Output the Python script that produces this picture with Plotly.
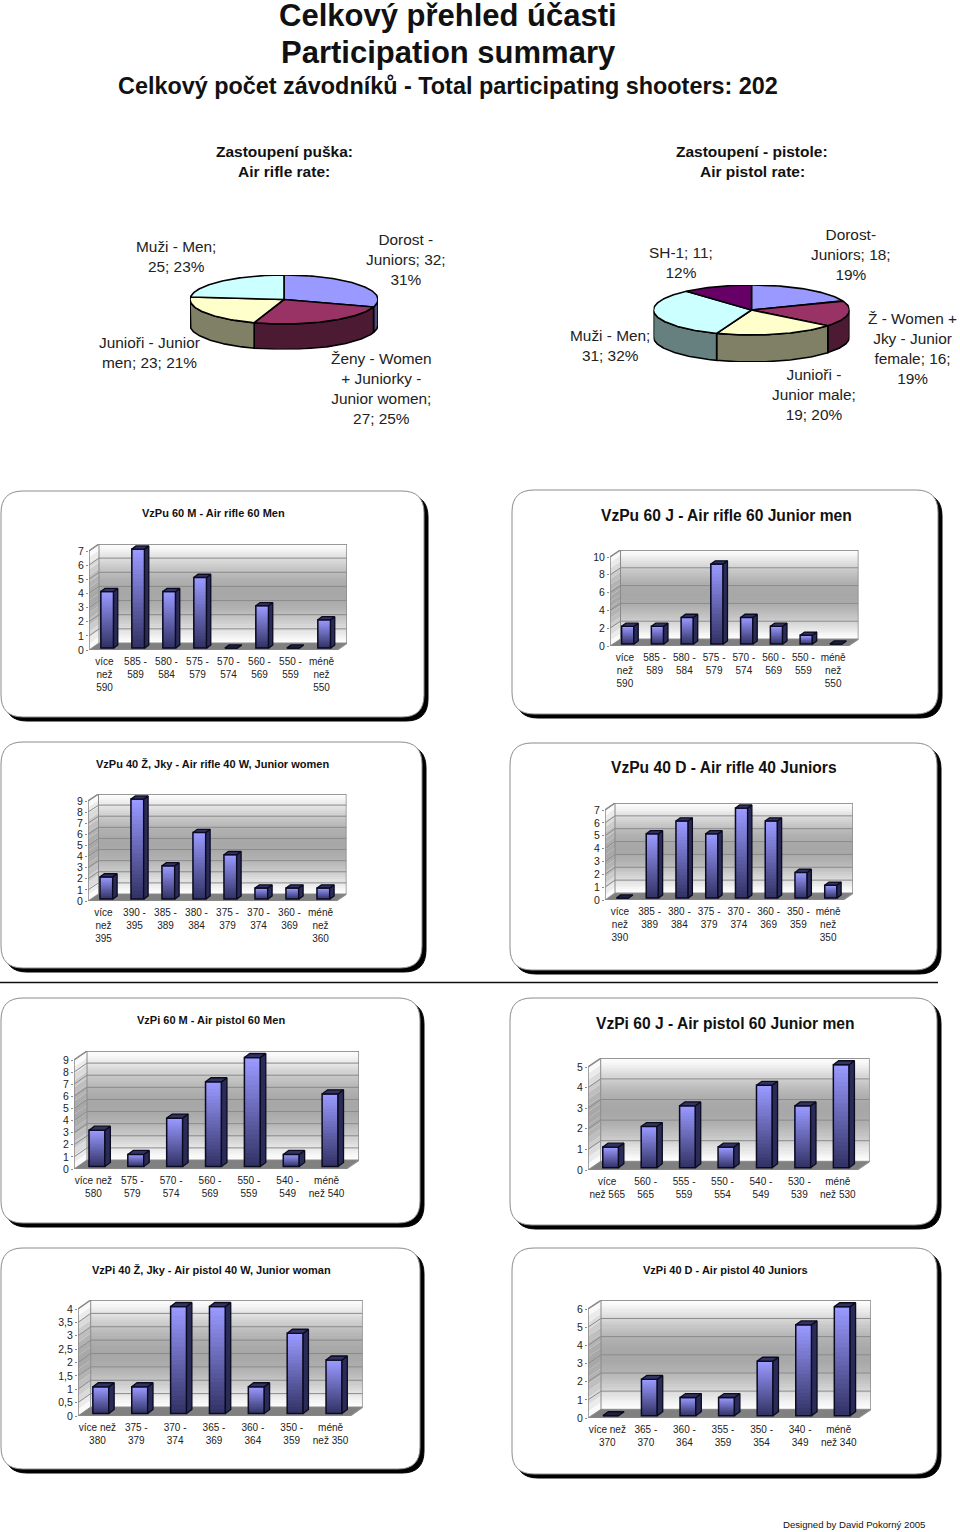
import math
import plotly.graph_objects as go

W, H = 960, 1532
FONT = "Liberation Sans, Arial, sans-serif"

# ---------- data ----------
rifle_pie_labels = ["Dorost -<br>Juniors; 32;<br>31%", "Ženy - Women<br>+ Juniorky -<br>Junior women;<br>27; 25%",
                    "Junioři - Junior<br>men; 23; 21%", "Muži - Men;<br>25; 23%"]
rifle_pie_values = [32, 27, 23, 25]
pistol_pie_labels = ["Dorost-<br>Juniors; 18;<br>19%", "Ž - Women +<br>Jky - Junior<br>female; 16;<br>19%",
                     "Junioři -<br>Junior male;<br>19; 20%", "Muži - Men;<br>31; 32%", "SH-1; 11;<br>12%"]
pistol_pie_values = [18, 16, 19, 31, 11]

cats_c1 = ["více<br>než<br>590", "585 -<br>589", "580 -<br>584", "575 -<br>579", "570 -<br>574", "560 -<br>569", "550 -<br>559", "méně<br>než<br>550"]
vals_c1 = [4, 7, 4, 5, 0, 3, 0, 2]
cats_c2 = cats_c1
vals_c2 = [2, 2, 3, 9, 3, 2, 1, 0]
cats_c3 = ["více<br>než<br>395", "390 -<br>395", "385 -<br>389", "380 -<br>384", "375 -<br>379", "370 -<br>374", "360 -<br>369", "méně<br>než<br>360"]
vals_c3 = [2, 9, 3, 6, 4, 1, 1, 1]
cats_c4 = ["více<br>než<br>390", "385 -<br>389", "380 -<br>384", "375 -<br>379", "370 -<br>374", "360 -<br>369", "350 -<br>359", "méně<br>než<br>350"]
vals_c4 = [0, 5, 6, 5, 7, 6, 2, 1]
cats_c5 = ["více než<br>580", "575 -<br>579", "570 -<br>574", "560 -<br>569", "550 -<br>559", "540 -<br>549", "méně<br>než 540"]
vals_c5 = [3, 1, 4, 7, 9, 1, 6]
cats_c6 = ["více<br>než 565", "560 -<br>565", "555 -<br>559", "550 -<br>554", "540 -<br>549", "530 -<br>539", "méně<br>než 530"]
vals_c6 = [1, 2, 3, 1, 4, 3, 5]
cats_c7 = ["více než<br>380", "375 -<br>379", "370 -<br>374", "365 -<br>369", "360 -<br>364", "350 -<br>359", "méně<br>než 350"]
vals_c7 = [1, 1, 4, 4, 1, 3, 2]
cats_c8 = ["více než<br>370", "365 -<br>370", "360 -<br>364", "355 -<br>359", "350 -<br>354", "340 -<br>349", "méně<br>než 340"]
vals_c8 = [0, 2, 1, 1, 3, 5, 6]

ticks_int_7 = [0, 1, 2, 3, 4, 5, 6, 7]
ticks_int_9 = [0, 1, 2, 3, 4, 5, 6, 7, 8, 9]
ticks_even_10 = [0, 2, 4, 6, 8, 10]
ticks_int_5 = [0, 1, 2, 3, 4, 5]
ticks_half_4 = [0, 0.5, 1, 1.5, 2, 2.5, 3, 3.5, 4]
ticks_int_6 = [0, 1, 2, 3, 4, 5, 6]

# ---------- layout of the charts (pixels on the page) ----------
charts = [
    dict(title="VzPu 60 M - Air rifle 60 Men", ts=11, tc=(213, 513), frame=(1, 491, 424, 717), cats=cats_c1, vals=vals_c1, ticks=ticks_int_7, box=(89, 337, 650, 551), d=(10, 7)),
    dict(title="VzPu 60 J - Air rifle 60 Junior men", ts=15.6, tc=(726, 515), frame=(512, 490, 938, 714), cats=cats_c2, vals=vals_c2, ticks=ticks_even_10, box=(610, 848, 646, 557), d=(10.5, 7)),
    dict(title="VzPu 40 Ž, Jky - Air rifle 40 W, Junior women", ts=11, tc=(212, 764), frame=(1, 742, 422, 968), cats=cats_c3, vals=vals_c3, ticks=ticks_int_9, box=(88, 336, 901, 801), d=(10.5, 7)),
    dict(title="VzPu 40 D - Air rifle 40 Juniors", ts=15.6, tc=(724, 768), frame=(510, 743, 937, 970), cats=cats_c4, vals=vals_c4, ticks=ticks_int_7, box=(605, 843, 900, 810), d=(10, 7)),
    dict(title="VzPi 60 M - Air pistol 60 Men", ts=11, tc=(211, 1020), frame=(1, 998, 420, 1223), cats=cats_c5, vals=vals_c5, ticks=ticks_int_9, box=(74, 346, 1169, 1060), d=(13, 9)),
    dict(title="VzPi 60 J - Air pistol 60 Junior men", ts=15.6, tc=(725, 1023), frame=(510, 998, 937, 1225), cats=cats_c6, vals=vals_c6, ticks=ticks_int_5, box=(588, 857, 1170, 1067), d=(12.7, 8.7)),
    dict(title="VzPi 40 Ž, Jky - Air pistol 40 W, Junior woman", ts=11, tc=(211, 1270), frame=(1, 1248, 420, 1469), cats=cats_c7, vals=vals_c7, ticks=ticks_half_4, box=(78, 350, 1416, 1309), d=(12.7, 9)),
    dict(title="VzPi 40 D - Air pistol 40 Juniors", ts=11, tc=(725, 1270), frame=(512, 1248, 937, 1474), cats=cats_c8, vals=vals_c8, ticks=ticks_int_6, box=(588, 858, 1418, 1309), d=(13, 8.7)),
]

fig = go.Figure()
layout = {}
annots = []
shapes = []


def px(x):
    return x / W


def py(y):
    return 1 - y / H


def note(text, x, y, size, bold=False, color="#111111"):
    annots.append(dict(text=f"<b>{text}</b>" if bold else text, x=px(x), y=py(y), xref="paper", yref="paper",
                       showarrow=False, xanchor="center", yanchor="middle", align="center",
                       font=dict(family=FONT, size=size, color=color)))


def rounded(x0, y0, x1, y1, r):
    X, Y = px, py
    return (f"M{X(x0+r)},{Y(y0)} L{X(x1-r)},{Y(y0)} Q{X(x1)},{Y(y0)} {X(x1)},{Y(y0+r)} "
            f"L{X(x1)},{Y(y1-r)} Q{X(x1)},{Y(y1)} {X(x1-r)},{Y(y1)} L{X(x0+r)},{Y(y1)} "
            f"Q{X(x0)},{Y(y1)} {X(x0)},{Y(y1-r)} L{X(x0)},{Y(y0+r)} Q{X(x0)},{Y(y0)} {X(x0+r)},{Y(y0)} Z")


def shade(t):
    level = 255 - 88 * math.sin(math.pi * max(0, min(1, t))) ** 1.2
    v = int(round(level))
    return f"rgb({v},{v},{v})"


def mix(a, b, t):
    return "rgb(%d,%d,%d)" % tuple(round(a[i] + (b[i] - a[i]) * t) for i in range(3))


def poly(xs, ys, fill, line=None, lw=1.0, xa="x", ya="y"):
    fig.add_trace(go.Scatter(
        x=list(xs) + [xs[0]], y=list(ys) + [ys[0]], mode="lines" if line else "none", fill="toself", fillcolor=fill,
        line=dict(color=line or "rgba(0,0,0,0)", width=lw), xaxis=xa, yaxis=ya, hoverinfo="skip",
        showlegend=False, cliponaxis=False))


def seg(xs, ys, color, lw, xa, ya):
    fig.add_trace(go.Scatter(x=xs, y=ys, mode="lines", line=dict(color=color, width=lw), xaxis=xa, yaxis=ya,
                             hoverinfo="skip", showlegend=False, cliponaxis=False, connectgaps=False))


GRID = "#8a8a8a"
BAR_TOP, BAR_BOTTOM = (153, 153, 255), (51, 51, 102)
N_SEG = 24

for i, c in enumerate(charts):
    x0, x1, y0, ytop = c["box"]
    ddx, ddy = c["d"]
    vals, cats, ticks = c["vals"], c["cats"], c["ticks"]
    n = len(vals)
    ymax = ticks[-1]
    catw = (x1 - x0) / n
    ppu = (y0 - ytop) / ymax
    dxc, dyv = ddx / catw, ddy / ppu
    xr = [-0.5, n - 0.5 + dxc]
    yr = [0, ymax + dyv]
    dom_x = [px(x0), px(x1 + ddx)]
    dom_y = [py(y0), py(ytop - ddy)]
    bg, fg = 2 * i + 1, 2 * i + 2
    bx, by = f"x{bg}", f"y{bg}"
    fx, fy = f"x{fg}", f"y{fg}"
    layout[f"xaxis{bg}"] = dict(domain=dom_x, range=xr, visible=False, anchor=by, fixedrange=True)
    layout[f"yaxis{bg}"] = dict(domain=dom_y, range=yr, visible=False, anchor=bx, fixedrange=True)
    layout[f"xaxis{fg}"] = dict(domain=dom_x, range=xr, anchor=fy, tickmode="array", tickvals=list(range(n)), ticktext=cats,
                                showgrid=False, zeroline=False, showline=False, ticks="outside", ticklen=2, tickcolor="rgba(0,0,0,0)",
                                tickangle=0, tickfont=dict(family=FONT, size=10, color="#222222"), fixedrange=True)
    layout[f"yaxis{fg}"] = dict(domain=dom_y, range=yr, anchor=fx, tickmode="array", tickvals=ticks,
                                ticktext=[str(t).replace(".", ",") for t in ticks],
                                showgrid=False, zeroline=False, showline=False, ticks="outside", ticklen=2, tickcolor=GRID,
                                tickfont=dict(family=FONT, size=10.5, color="#222222"), fixedrange=True)

    # frame with its shadow
    fx0, fy0, fx1, fy1 = c["frame"]
    shapes.append(dict(type="path", xref="paper", yref="paper", layer="below", path=rounded(fx0 + 4, fy0 + 4, fx1 + 4, fy1 + 4, 22),
                       fillcolor="black", line=dict(color="black", width=1)))
    shapes.append(dict(type="path", xref="paper", yref="paper", layer="below", path=rounded(fx0, fy0, fx1, fy1, 22),
                       fillcolor="white", line=dict(color="#8c8c8c", width=1)))
    note(c["title"], c["tc"][0], c["tc"][1], c["ts"], bold=True)

    # back wall
    K = 48
    fig.add_trace(go.Heatmap(x=[-0.5 + dxc, n - 0.5 + dxc], y=[dyv + ymax * k / K for k in range(K + 1)],
                             z=[[k + 0.5] for k in range(K)], zmin=0, zmax=K, showscale=False, hoverinfo="skip",
                             colorscale=[[j / 20, shade(j / 20)] for j in range(21)], xaxis=bx, yaxis=by))
    # left wall
    B = 16
    for k in range(B):
        a, b = ymax * k / B, ymax * (k + 1) / B
        poly([-0.5, -0.5 + dxc, -0.5 + dxc, -0.5], [a, a + dyv, b + dyv, b], shade((k + 0.5) / B), xa=bx, ya=by)
    # floor
    poly([-0.5, n - 0.5, n - 0.5 + dxc, -0.5 + dxc], [0, 0, dyv, dyv], "#808080", xa=bx, ya=by)
    # grid lines
    gx, gy = [], []
    for t in ticks:
        gx += [-0.5, -0.5 + dxc, n - 0.5 + dxc, None]
        gy += [t, t + dyv, t + dyv, None]
    seg(gx, gy, GRID, 1, bx, by)
    # wall borders, axis lines and separators
    seg([-0.5, -0.5 + dxc, n - 0.5 + dxc, n - 0.5 + dxc, n - 0.5, -0.5, -0.5],
        [ymax, ymax + dyv, ymax + dyv, dyv, 0, 0, ymax], GRID, 1.5, bx, by)
    seg([-0.5 + dxc, -0.5 + dxc], [dyv, ymax + dyv], GRID, 1, bx, by)
    sx, sy = [], []
    for k in range(n + 1):
        sx += [k - 0.5, k - 0.5, None]
        sy += [0, -3 / ppu, None]
    seg(sx, sy, GRID, 1, bx, by)

    # columns: the gradient is painted from the base upward, each layer over the one before
    off_x, off_y = 0.27 * dxc, 0.27 * dyv
    dep_x, dep_y = 0.42 * dxc, 0.45 * dyv
    bw = 0.41
    sx_, sb, sh, sc = [], [], [], []
    for k, v in enumerate(vals):
        for s in range(N_SEG):
            sx_.append(k + off_x)
            sb.append(off_y + v * s / N_SEG)
            sh.append(v * (N_SEG - s) / N_SEG)
            sc.append(mix(BAR_BOTTOM, BAR_TOP, s / (N_SEG - 1)))
    fig.add_trace(go.Bar(x=sx_, y=sh, base=sb, width=bw, marker=dict(color=sc, line=dict(width=0)), xaxis=fx, yaxis=fy,
                         hoverinfo="skip", showlegend=False))
    fig.add_trace(go.Bar(x=[k + off_x for k in range(n)], y=vals, base=[off_y] * n, width=bw, xaxis=fx, yaxis=fy,
                         marker=dict(color="rgba(0,0,0,0)", line=dict(color="#0a0a20", width=1.5)), showlegend=False,
                         hoverinfo="skip"))
    for k, v in enumerate(vals):
        l = k + off_x - bw / 2
        r = k + off_x + bw / 2
        t = v + off_y
        if v > 0:
            poly([r, r + dep_x, r + dep_x, r], [off_y, off_y + dep_y, t + dep_y, t], "#2b2b58", "#0a0a20", 1.3, fx, fy)
        poly([l, r, r + dep_x, l + dep_x], [t, t, t + dep_y, t + dep_y], "#33335f" if v > 0 else "#20203a", "#0a0a20", 1.3, fx, fy)

# ---------- pies ----------
TOP_COLORS = {"blue": "#9999FF", "wine": "#993366", "cream": "#FFFFCC", "ice": "#CCFFFF", "plum": "#660066"}
SIDE_COLORS = {"blue": "#4d4d80", "wine": "#4d1a33", "cream": "#808066", "ice": "#668080", "plum": "#330033"}

pies = [
    dict(values=rifle_pie_values, cols=["blue", "wine", "cream", "ice"], c=(284, 299.5), r=(94, 24.5), depth=25.5,
         labels=rifle_pie_labels, pos=[(405.5, 260), (381, 389), (149, 353), (176, 256.5)]),
    dict(values=pistol_pie_values, cols=["blue", "wine", "cream", "ice", "plum"], c=(751.5, 310), r=(98, 25), depth=27,
         labels=pistol_pie_labels, pos=[(850.5, 254), (912, 348), (814, 395), (610, 346), (681, 262)]),
]

for i, p in enumerate(pies):
    k = 17 + i
    xa, ya = f"x{k}", f"y{k}"
    (cx, cy), (rx, ry), dep = p["c"], p["r"], p["depth"]
    dn = dep / ry
    layout[f"xaxis{k}"] = dict(domain=[px(cx - rx), px(cx + rx)], range=[-1, 1], visible=False, anchor=ya, fixedrange=True)
    layout[f"yaxis{k}"] = dict(domain=[py(cy + ry + dep), py(cy - ry)], range=[-1 - dn, 1], visible=False, anchor=xa, fixedrange=True)
    total = sum(p["values"])
    start = 0.0
    wedges = []
    for v, col in zip(p["values"], p["cols"]):
        end = start + 360 * v / total
        wedges.append((start, end, col))
        start = end
    # side walls first
    for a, b, col in wedges:
        lo, hi = max(a, 90), min(b, 270)
        if hi > lo:
            m = max(2, int(hi - lo))
            th = [math.radians(lo + (hi - lo) * j / m) for j in range(m + 1)]
            xs = [math.sin(t) for t in th]
            ys = [math.cos(t) for t in th]
            poly(xs + xs[::-1], ys + [y - dn for y in ys[::-1]], SIDE_COLORS[col], "black", 1.6, xa, ya)
    # top faces
    for a, b, col in wedges:
        m = max(2, int(b - a))
        th = [math.radians(a + (b - a) * j / m) for j in range(m + 1)]
        poly([0] + [math.sin(t) for t in th], [0] + [math.cos(t) for t in th], TOP_COLORS[col], "black", 1.6, xa, ya)
    for text, (lx, ly) in zip(p["labels"], p["pos"]):
        note(text, lx, ly, 15.4, color="#222222")

# ---------- page texts ----------
note("Celkový přehled účasti", 448, 15, 31, bold=True)
note("Participation summary", 448, 52, 31, bold=True)
note("Celkový počet závodníků - Total participating shooters: 202", 448, 86, 23.4, bold=True)
note("Zastoupení puška:", 284, 151.5, 15.5, bold=True)
note("Air rifle rate:", 284, 171.5, 15.5, bold=True)
note("Zastoupení - pistole:", 752, 151.5, 15.5, bold=True)
note("Air pistol rate:", 752, 171.5, 15.5, bold=True)
note("Designed by David Pokorný 2005", 854, 1524, 9.6)

shapes.append(dict(type="line", xref="paper", yref="paper", x0=0, x1=px(938), y0=py(982.5), y1=py(982.5),
                   line=dict(color="#111111", width=1.5), layer="below"))

fig.update_layout(width=W, height=H, margin=dict(l=0, r=0, t=0, b=0, pad=0, autoexpand=False), paper_bgcolor="white",
                  plot_bgcolor="rgba(0,0,0,0)", barmode="overlay", showlegend=False, annotations=annots, shapes=shapes,
                  font=dict(family=FONT), **layout)
fig.write_html("out.html", post_script="document.body.style.margin='0';", config=dict(displayModeBar=False))
